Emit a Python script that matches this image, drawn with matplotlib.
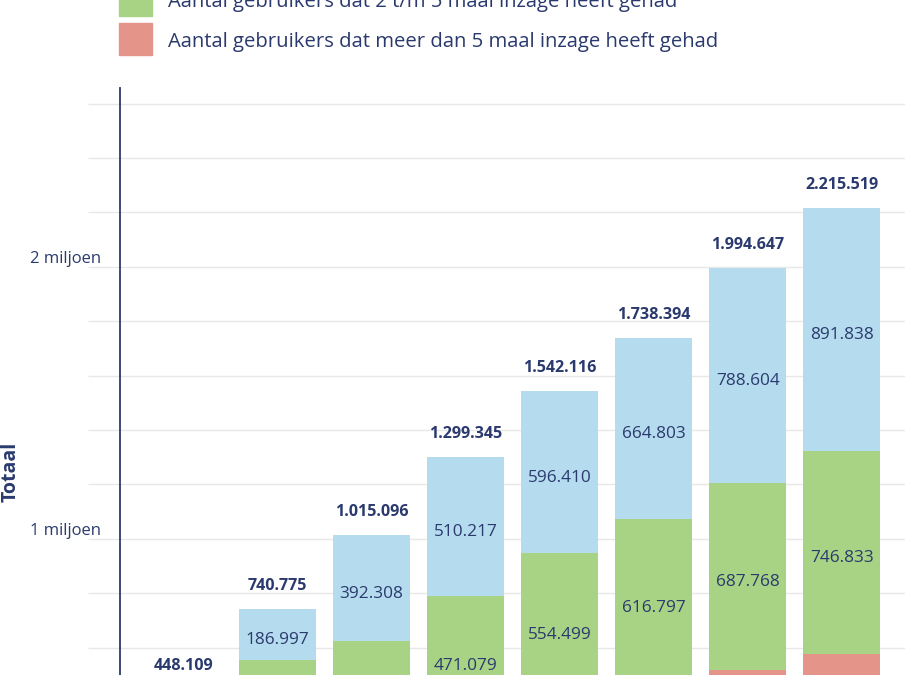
import numpy as np
import matplotlib
matplotlib.use("Agg")
import matplotlib.pyplot as plt
from matplotlib.patches import Rectangle
from matplotlib.ticker import FuncFormatter

plt.rcParams['font.family'] = ['Open Sans', 'DejaVu Sans']

# data (values read from the labels; splits for the first bars are estimates)
blue = np.array([118000, 186997, 392308, 510217, 596410, 664803, 788604, 891838])
green = np.array([205000, 330000, 385000, 471079, 554499, 616797, 687768, 746833])
red = np.array([125109, 223778, 237788, 318049, 391207, 456794, 518275, 576848])
totals = [448109, 740775, 1015096, 1299345, 1542116, 1738394, 1994647, 2215519]
legend_labels = [
    'Aantal gebruikers dat 1 maal inzage heeft gehad',
    'Aantal gebruikers dat 2 t/m 5 maal inzage heeft gehad',
    'Aantal gebruikers dat meer dan 5 maal inzage heeft gehad',
]

BLUE = '#b5dbee'
GREEN = '#a8d384'
RED = '#e5948a'
NAVY = '#2b3a6e'
GRID = '#e6e9e6'

W, H = 908, 675
fig = plt.figure(figsize=(W / 100, H / 100), dpi=100)

# axes run below the bottom of the picture, like the cropped reference
ax = fig.add_axes([120 / W, (H - 810.7) / H, 785.4 / W, 722.7 / H])

x = np.arange(len(totals))
bw = 0.822
ax.bar(x, red, width=bw, color=RED, zorder=2)
ax.bar(x, green, width=bw, bottom=red, color=GREEN, zorder=2)
ax.bar(x, blue, width=bw, bottom=red + green, color=BLUE, zorder=2)

ax.set_xlim(-0.676, 7.676)
ax.set_ylim(0, 2.657e6)

for s in ['top', 'right', 'bottom']:
    ax.spines[s].set_visible(False)
ax.spines['left'].set_color(NAVY)
ax.spines['left'].set_linewidth(1.3)
ax.spines['left'].set_zorder(3)

ax.set_yticks(np.arange(0, 2.6e6 + 1, 2e5))
ax.yaxis.set_major_formatter(FuncFormatter(
    lambda v, p: '%d miljoen' % round(v / 1e6) if v > 0 and round(v) % 1000000 == 0 else ''))
ax.tick_params(axis='y', length=23, width=1, color=GRID, pad=-9.3,
               labelsize=12, labelcolor=NAVY)
for lab in ax.get_yticklabels():
    lab.set_verticalalignment('bottom')
ax.tick_params(axis='x', bottom=False, labelbottom=False)
ax.grid(axis='y', color=GRID, linewidth=1, zorder=0)
ax.set_axisbelow(True)


def fmt(v):
    return '{:,}'.format(int(v)).replace(',', '.')


texts = []
# totals above the bars
for i, t in enumerate(totals):
    texts.append(ax.annotate(fmt(t), (i, t), xytext=(0, 13.7), textcoords='offset points',
                             ha='center', va='baseline', fontsize=11.6,
                             fontweight='bold', color=NAVY))

# values inside the segments
bottoms = [np.zeros(len(x)), red, red + green]
for vals, bot in zip([red, green, blue], bottoms):
    for i in x:
        texts.append(ax.annotate(fmt(vals[i]), (i, bot[i] + vals[i] / 2), xytext=(0, -7),
                                 textcoords='offset points', ha='center', va='baseline',
                                 fontsize=12.4, color=NAVY))

fig.text(11 / W, 1 - 472 / H, 'Totaal', rotation=90, ha='center', va='center',
         fontsize=14, fontweight='bold', color=NAVY)

# legend drawn by hand, first row sits above the picture
for k, (lab, col) in enumerate(zip(legend_labels, [BLUE, GREEN, RED])):
    yc = 39 - 39 * (2 - k)
    fig.patches.append(Rectangle((119 / W, 1 - (yc + 16) / H), 33 / W, 32 / H,
                                 transform=fig.transFigure, color=col))
    texts.append(fig.text(168 / W, 1 - (yc + 7.5) / H, lab, ha='left', va='baseline',
                          fontsize=14.6, color=NAVY))

# the picture is a crop: drop labels that fall completely outside it
fig.canvas.draw()
r = fig.canvas.get_renderer()
for t in texts:
    bb = t.get_window_extent(r)
    if bb.y1 < 0 or bb.y0 > H:
        t.remove()

fig.savefig('out.png', dpi=100)
